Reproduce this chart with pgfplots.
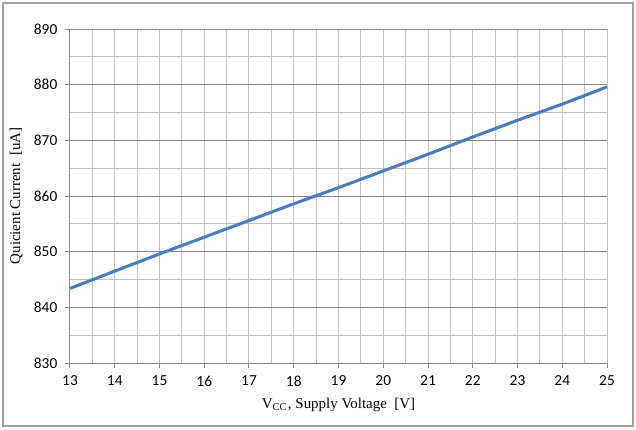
\documentclass[border=0pt]{standalone}
\usepackage{pgfplots}
\pgfplotsset{compat=1.18}
\usepackage{fontspec}
\setmainfont{Liberation Serif}
\newfontfamily\calib{Carlito}
\definecolor{lineblue}{RGB}{74,126,187}
\definecolor{majg}{RGB}{134,134,134}
\definecolor{ming}{RGB}{192,192,192}
\definecolor{frameg}{RGB}{160,160,160}
\begin{document}
\begin{tikzpicture}[x=0.75pt,y=0.75pt]
\useasboundingbox (-70,-66) rectangle (566,363);
\begin{axis}[
  name=ax,
  at={(0,0)}, anchor=south west,
  scale only axis,
  width=402.75pt, height=250.5pt,
  xmin=13, xmax=25, ymin=830, ymax=890,
  xtick={13,...,25}, ytick={830,840,...,890},
  minor xtick={13.5,14.5,...,24.5},
  minor ytick={835,845,...,885},
  grid=both,
  x grid style={ming, line width=0.75pt},
  y grid style={majg, line width=0.75pt},
  minor x grid style={ming, line width=0.75pt},
  minor y grid style={ming, line width=0.75pt},
  axis x line*=bottom, axis y line*=left,
  axis line style={majg, line width=0.75pt, -},
  tick style={majg, line width=0.75pt},
  tick align=outside,
  major tick length=4pt,
  minor tick length=0pt,
  tick label style={font=\calib\fontsize{11.5}{13}\selectfont},
  /pgf/number format/assume math mode=true,
  xticklabel style={yshift=-2pt},
  yticklabel style={xshift=-2pt},
  xlabel={V\textsubscript{CC}\kern0.5pt, Supply Voltage\ \ [V]},
  ylabel={Quicient\ Current\ \ [uA]},
  label style={font=\fontsize{11.2}{13}\selectfont},
  xlabel style={at={(axis description cs:0.5,0)}, anchor=north, yshift=-23pt},
  ylabel style={at={(axis description cs:0,0.5)}, anchor=south, yshift=32pt},
  clip=false,
]
\addplot[lineblue, line width=2.3pt] coordinates {
(13,843.4) (14,846.5) (15,849.6) (16,852.6) (17,855.6) (18,858.6) (19,861.5)
(20,864.5) (21,867.5) (22,870.6) (23,873.6) (24,876.5) (25,879.6)};
\end{axis}
\draw[frameg, line width=0.9pt] (-67,-63) rectangle (563,360);
\end{tikzpicture}
\end{document}
